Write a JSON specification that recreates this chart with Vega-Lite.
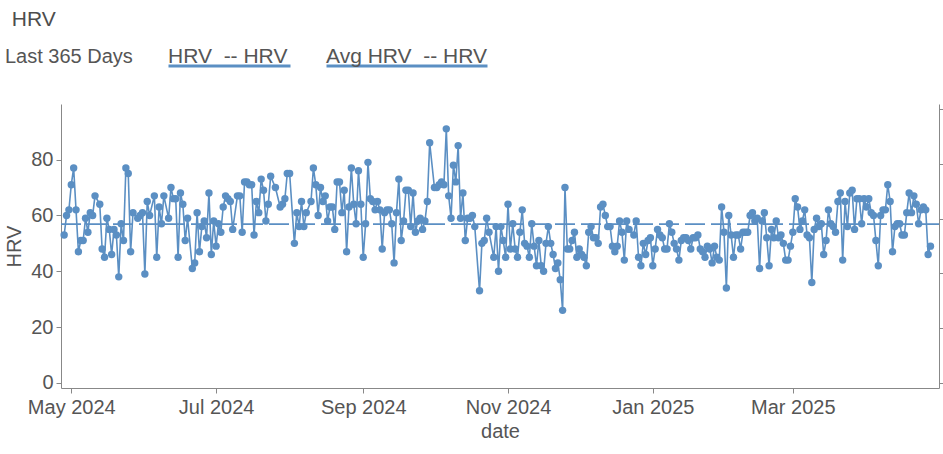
{
  "$schema": "https://vega.github.io/schema/vega-lite/v6.json",
  "autosize": "none",
  "padding": {"left": 61, "top": 104, "right": 4, "bottom": 66},
  "width": 878,
  "height": 284,
  "background": "white",
  "title": {"text": "HRV", "anchor": "start", "frame": "bounds", "dx": 7, "offset": 12, "fontSize": 21, "fontWeight": "normal", "color": "#4d4d4d", "font": "Liberation Sans"},
  "config": {
    "font": "Liberation Sans",
    "view": {"stroke": null},
    "axis": {"labelFont": "Liberation Sans", "labelFontSize": 20, "labelColor": "#555555", "titleFont": "Liberation Sans", "titleFontSize": 20, "titleFontWeight": "normal", "titleColor": "#555555", "domainColor": "#888888", "tickColor": "#888888", "grid": false, "tickSize": 5}
  },
  "datasets": {
    "hrv": [
{"date":"2024-04-28","hrv":53},{"date":"2024-04-29","hrv":60},{"date":"2024-04-30","hrv":62},{"date":"2024-05-01","hrv":71},{"date":"2024-05-02","hrv":77},{"date":"2024-05-03","hrv":62},{"date":"2024-05-04","hrv":47},{"date":"2024-05-05","hrv":51},{"date":"2024-05-06","hrv":51},{"date":"2024-05-07","hrv":59},{"date":"2024-05-08","hrv":54},{"date":"2024-05-09","hrv":61},{"date":"2024-05-10","hrv":60},{"date":"2024-05-11","hrv":67},{"date":"2024-05-13","hrv":64},{"date":"2024-05-14","hrv":48},{"date":"2024-05-15","hrv":45},{"date":"2024-05-16","hrv":59},{"date":"2024-05-17","hrv":55},{"date":"2024-05-18","hrv":46},{"date":"2024-05-19","hrv":55},{"date":"2024-05-20","hrv":53},{"date":"2024-05-21","hrv":38},{"date":"2024-05-22","hrv":57},{"date":"2024-05-23","hrv":51},{"date":"2024-05-24","hrv":77},{"date":"2024-05-25","hrv":75},{"date":"2024-05-26","hrv":47},{"date":"2024-05-27","hrv":61},{"date":"2024-05-29","hrv":59},{"date":"2024-05-30","hrv":60},{"date":"2024-05-31","hrv":61},
{"date":"2024-06-01","hrv":39},{"date":"2024-06-02","hrv":65},{"date":"2024-06-03","hrv":60},{"date":"2024-06-05","hrv":67},{"date":"2024-06-06","hrv":45},{"date":"2024-06-07","hrv":63},{"date":"2024-06-08","hrv":57},{"date":"2024-06-09","hrv":67},{"date":"2024-06-11","hrv":59},{"date":"2024-06-12","hrv":70},{"date":"2024-06-13","hrv":66},{"date":"2024-06-14","hrv":66},{"date":"2024-06-15","hrv":45},{"date":"2024-06-16","hrv":68},{"date":"2024-06-17","hrv":64},{"date":"2024-06-18","hrv":51},{"date":"2024-06-19","hrv":59},{"date":"2024-06-21","hrv":41},{"date":"2024-06-22","hrv":43},{"date":"2024-06-23","hrv":61},{"date":"2024-06-24","hrv":47},{"date":"2024-06-25","hrv":56},{"date":"2024-06-26","hrv":58},{"date":"2024-06-27","hrv":52},{"date":"2024-06-28","hrv":68},{"date":"2024-06-29","hrv":46},{"date":"2024-06-30","hrv":58},
{"date":"2024-07-01","hrv":49},{"date":"2024-07-02","hrv":57},{"date":"2024-07-03","hrv":54},{"date":"2024-07-04","hrv":63},{"date":"2024-07-05","hrv":67},{"date":"2024-07-06","hrv":66},{"date":"2024-07-07","hrv":65},{"date":"2024-07-08","hrv":55},{"date":"2024-07-10","hrv":67},{"date":"2024-07-11","hrv":67},{"date":"2024-07-12","hrv":54},{"date":"2024-07-13","hrv":72},{"date":"2024-07-14","hrv":72},{"date":"2024-07-15","hrv":71},{"date":"2024-07-16","hrv":71},{"date":"2024-07-17","hrv":53},{"date":"2024-07-18","hrv":65},{"date":"2024-07-19","hrv":61},{"date":"2024-07-20","hrv":73},{"date":"2024-07-21","hrv":69},{"date":"2024-07-22","hrv":58},{"date":"2024-07-23","hrv":64},{"date":"2024-07-24","hrv":74},{"date":"2024-07-26","hrv":70},{"date":"2024-07-28","hrv":63},{"date":"2024-07-29","hrv":64},{"date":"2024-07-30","hrv":66},{"date":"2024-07-31","hrv":75},
{"date":"2024-08-01","hrv":75},{"date":"2024-08-03","hrv":50},{"date":"2024-08-04","hrv":61},{"date":"2024-08-05","hrv":56},{"date":"2024-08-06","hrv":65},{"date":"2024-08-07","hrv":56},{"date":"2024-08-08","hrv":61},{"date":"2024-08-10","hrv":65},{"date":"2024-08-11","hrv":77},{"date":"2024-08-12","hrv":71},{"date":"2024-08-13","hrv":60},{"date":"2024-08-14","hrv":70},{"date":"2024-08-15","hrv":65},{"date":"2024-08-16","hrv":67},{"date":"2024-08-17","hrv":58},{"date":"2024-08-18","hrv":63},{"date":"2024-08-19","hrv":63},{"date":"2024-08-20","hrv":55},{"date":"2024-08-21","hrv":72},{"date":"2024-08-22","hrv":72},{"date":"2024-08-23","hrv":61},{"date":"2024-08-24","hrv":69},{"date":"2024-08-25","hrv":47},{"date":"2024-08-26","hrv":63},{"date":"2024-08-27","hrv":77},{"date":"2024-08-28","hrv":64},{"date":"2024-08-29","hrv":57},{"date":"2024-08-30","hrv":76},{"date":"2024-08-31","hrv":64},
{"date":"2024-09-01","hrv":45},{"date":"2024-09-02","hrv":57},{"date":"2024-09-03","hrv":79},{"date":"2024-09-04","hrv":66},{"date":"2024-09-05","hrv":65},{"date":"2024-09-06","hrv":62},{"date":"2024-09-07","hrv":65},{"date":"2024-09-08","hrv":62},{"date":"2024-09-09","hrv":48},{"date":"2024-09-10","hrv":61},{"date":"2024-09-11","hrv":62},{"date":"2024-09-12","hrv":62},{"date":"2024-09-13","hrv":57},{"date":"2024-09-14","hrv":43},{"date":"2024-09-15","hrv":61},{"date":"2024-09-16","hrv":73},{"date":"2024-09-17","hrv":51},{"date":"2024-09-18","hrv":58},{"date":"2024-09-19","hrv":69},{"date":"2024-09-20","hrv":69},{"date":"2024-09-21","hrv":56},{"date":"2024-09-22","hrv":68},{"date":"2024-09-23","hrv":54},{"date":"2024-09-24","hrv":58},{"date":"2024-09-25","hrv":59},{"date":"2024-09-26","hrv":55},{"date":"2024-09-27","hrv":58},{"date":"2024-09-28","hrv":65},{"date":"2024-09-29","hrv":86},
{"date":"2024-10-01","hrv":70},{"date":"2024-10-02","hrv":70},{"date":"2024-10-03","hrv":71},{"date":"2024-10-04","hrv":72},{"date":"2024-10-05","hrv":71},{"date":"2024-10-06","hrv":91},{"date":"2024-10-07","hrv":67},{"date":"2024-10-08","hrv":59},{"date":"2024-10-09","hrv":78},{"date":"2024-10-10","hrv":72},{"date":"2024-10-11","hrv":85},{"date":"2024-10-12","hrv":59},{"date":"2024-10-13","hrv":68},{"date":"2024-10-14","hrv":51},{"date":"2024-10-15","hrv":59},{"date":"2024-10-16","hrv":59},{"date":"2024-10-17","hrv":60},{"date":"2024-10-18","hrv":56},{"date":"2024-10-20","hrv":33},{"date":"2024-10-21","hrv":50},{"date":"2024-10-22","hrv":51},{"date":"2024-10-23","hrv":59},{"date":"2024-10-24","hrv":54},{"date":"2024-10-26","hrv":45},{"date":"2024-10-27","hrv":56},{"date":"2024-10-28","hrv":40},{"date":"2024-10-29","hrv":56},{"date":"2024-10-30","hrv":51},{"date":"2024-10-31","hrv":45},
{"date":"2024-11-01","hrv":64},{"date":"2024-11-02","hrv":48},{"date":"2024-11-03","hrv":57},{"date":"2024-11-04","hrv":48},{"date":"2024-11-05","hrv":45},{"date":"2024-11-06","hrv":54},{"date":"2024-11-07","hrv":62},{"date":"2024-11-08","hrv":50},{"date":"2024-11-09","hrv":49},{"date":"2024-11-10","hrv":45},{"date":"2024-11-11","hrv":57},{"date":"2024-11-12","hrv":49},{"date":"2024-11-13","hrv":42},{"date":"2024-11-14","hrv":51},{"date":"2024-11-15","hrv":42},{"date":"2024-11-16","hrv":40},{"date":"2024-11-17","hrv":50},{"date":"2024-11-18","hrv":56},{"date":"2024-11-19","hrv":50},{"date":"2024-11-20","hrv":46},{"date":"2024-11-21","hrv":41},{"date":"2024-11-22","hrv":43},{"date":"2024-11-23","hrv":37},{"date":"2024-11-24","hrv":26},{"date":"2024-11-25","hrv":70},{"date":"2024-11-26","hrv":48},{"date":"2024-11-27","hrv":48},{"date":"2024-11-28","hrv":51},{"date":"2024-11-29","hrv":54},{"date":"2024-11-30","hrv":45},
{"date":"2024-12-01","hrv":48},{"date":"2024-12-02","hrv":46},{"date":"2024-12-03","hrv":45},{"date":"2024-12-04","hrv":42},{"date":"2024-12-05","hrv":54},{"date":"2024-12-06","hrv":56},{"date":"2024-12-07","hrv":52},{"date":"2024-12-08","hrv":52},{"date":"2024-12-09","hrv":50},{"date":"2024-12-10","hrv":63},{"date":"2024-12-11","hrv":64},{"date":"2024-12-12","hrv":60},{"date":"2024-12-13","hrv":56},{"date":"2024-12-14","hrv":56},{"date":"2024-12-15","hrv":49},{"date":"2024-12-16","hrv":47},{"date":"2024-12-17","hrv":49},{"date":"2024-12-18","hrv":58},{"date":"2024-12-19","hrv":54},{"date":"2024-12-20","hrv":44},{"date":"2024-12-21","hrv":58},{"date":"2024-12-22","hrv":55},{"date":"2024-12-24","hrv":53},{"date":"2024-12-25","hrv":58},{"date":"2024-12-26","hrv":45},{"date":"2024-12-27","hrv":42},{"date":"2024-12-28","hrv":50},{"date":"2024-12-29","hrv":46},{"date":"2024-12-30","hrv":51},{"date":"2024-12-31","hrv":52},
{"date":"2025-01-01","hrv":42},{"date":"2025-01-02","hrv":48},{"date":"2025-01-03","hrv":55},{"date":"2025-01-04","hrv":53},{"date":"2025-01-05","hrv":52},{"date":"2025-01-06","hrv":48},{"date":"2025-01-07","hrv":48},{"date":"2025-01-08","hrv":57},{"date":"2025-01-09","hrv":54},{"date":"2025-01-10","hrv":50},{"date":"2025-01-11","hrv":48},{"date":"2025-01-12","hrv":44},{"date":"2025-01-13","hrv":51},{"date":"2025-01-14","hrv":52},{"date":"2025-01-15","hrv":52},{"date":"2025-01-16","hrv":51},{"date":"2025-01-17","hrv":48},{"date":"2025-01-18","hrv":52},{"date":"2025-01-19","hrv":52},{"date":"2025-01-20","hrv":53},{"date":"2025-01-21","hrv":48},{"date":"2025-01-22","hrv":47},{"date":"2025-01-23","hrv":45},{"date":"2025-01-24","hrv":49},{"date":"2025-01-25","hrv":48},{"date":"2025-01-26","hrv":43},{"date":"2025-01-27","hrv":49},{"date":"2025-01-28","hrv":45},{"date":"2025-01-29","hrv":44},{"date":"2025-01-30","hrv":63},{"date":"2025-01-31","hrv":54},
{"date":"2025-02-01","hrv":34},{"date":"2025-02-02","hrv":60},{"date":"2025-02-03","hrv":53},{"date":"2025-02-04","hrv":45},{"date":"2025-02-05","hrv":53},{"date":"2025-02-06","hrv":53},{"date":"2025-02-07","hrv":48},{"date":"2025-02-08","hrv":54},{"date":"2025-02-09","hrv":54},{"date":"2025-02-10","hrv":54},{"date":"2025-02-11","hrv":60},{"date":"2025-02-12","hrv":61},{"date":"2025-02-13","hrv":58},{"date":"2025-02-14","hrv":59},{"date":"2025-02-15","hrv":41},{"date":"2025-02-16","hrv":58},{"date":"2025-02-17","hrv":61},{"date":"2025-02-18","hrv":52},{"date":"2025-02-19","hrv":42},{"date":"2025-02-20","hrv":55},{"date":"2025-02-21","hrv":52},{"date":"2025-02-22","hrv":58},{"date":"2025-02-23","hrv":52},{"date":"2025-02-24","hrv":53},{"date":"2025-02-25","hrv":50},{"date":"2025-02-26","hrv":44},{"date":"2025-02-27","hrv":44},{"date":"2025-02-28","hrv":49},
{"date":"2025-03-01","hrv":54},{"date":"2025-03-02","hrv":66},{"date":"2025-03-03","hrv":63},{"date":"2025-03-04","hrv":55},{"date":"2025-03-05","hrv":58},{"date":"2025-03-06","hrv":62},{"date":"2025-03-07","hrv":53},{"date":"2025-03-08","hrv":52},{"date":"2025-03-09","hrv":36},{"date":"2025-03-10","hrv":55},{"date":"2025-03-11","hrv":59},{"date":"2025-03-12","hrv":56},{"date":"2025-03-13","hrv":57},{"date":"2025-03-14","hrv":46},{"date":"2025-03-15","hrv":51},{"date":"2025-03-16","hrv":62},{"date":"2025-03-17","hrv":57},{"date":"2025-03-18","hrv":56},{"date":"2025-03-19","hrv":54},{"date":"2025-03-20","hrv":65},{"date":"2025-03-21","hrv":68},{"date":"2025-03-22","hrv":44},{"date":"2025-03-23","hrv":65},{"date":"2025-03-24","hrv":56},{"date":"2025-03-25","hrv":68},{"date":"2025-03-26","hrv":69},{"date":"2025-03-27","hrv":55},{"date":"2025-03-28","hrv":66},{"date":"2025-03-29","hrv":66},{"date":"2025-03-30","hrv":57},{"date":"2025-03-31","hrv":66},
{"date":"2025-04-01","hrv":63},{"date":"2025-04-02","hrv":66},{"date":"2025-04-03","hrv":61},{"date":"2025-04-04","hrv":60},{"date":"2025-04-05","hrv":51},{"date":"2025-04-06","hrv":42},{"date":"2025-04-07","hrv":60},{"date":"2025-04-08","hrv":62},{"date":"2025-04-09","hrv":62},{"date":"2025-04-10","hrv":71},{"date":"2025-04-11","hrv":65},{"date":"2025-04-12","hrv":47},{"date":"2025-04-13","hrv":56},{"date":"2025-04-14","hrv":57},{"date":"2025-04-15","hrv":57},{"date":"2025-04-16","hrv":53},{"date":"2025-04-17","hrv":53},{"date":"2025-04-18","hrv":61},{"date":"2025-04-19","hrv":68},{"date":"2025-04-20","hrv":61},{"date":"2025-04-21","hrv":67},{"date":"2025-04-22","hrv":64},{"date":"2025-04-23","hrv":57},{"date":"2025-04-24","hrv":62},{"date":"2025-04-25","hrv":63},{"date":"2025-04-26","hrv":62},{"date":"2025-04-27","hrv":46},{"date":"2025-04-28","hrv":49}
    ],
    "avg": [{"avg": 58}]
  },
  "layer": [
    {
      "data": {"name": "hrv", "format": {"parse": {"date": "date:'%Y-%m-%d'"}}},
      "mark": {"type": "line", "strokeWidth": 1.6, "point": {"filled": true, "size": 55, "opacity": 1}},
      "encoding": {
        "x": {
          "field": "date", "type": "temporal", "title": "date",
          "scale": {"domain": [{"year": 2024, "month": 4, "date": 26, "hours": 16}, {"year": 2025, "month": 5, "date": 1, "hours": 14}]},
          "axis": {
            "format": "%b %Y",
            "values": [
              {"year": 2024, "month": 5, "date": 1},
              {"year": 2024, "month": 7, "date": 1},
              {"year": 2024, "month": 9, "date": 1},
              {"year": 2024, "month": 11, "date": 1},
              {"year": 2025, "month": 1, "date": 1},
              {"year": 2025, "month": 3, "date": 1}
            ],
            "labelPadding": 4, "titlePadding": 4
          }
        },
        "y": {
          "field": "hrv", "type": "quantitative", "title": "HRV",
          "scale": {"domain": [-1.8, 99.9], "nice": false, "zero": false},
          "axis": {"values": [0, 20, 40, 60, 80], "labelPadding": 3, "titlePadding": 6}
        },
        "color": {
          "datum": "HRV\u00a0 -- HRV",
          "scale": {"domain": ["HRV\u00a0 -- HRV", "Avg HRV\u00a0 -- HRV"], "range": ["#5b8fc3", "#5b8fc3"]},
          "legend": {
            "orient": "none", "legendX": -56, "legendY": -62,
            "direction": "horizontal",
            "title": "Last 365 Days", "titleOrient": "left", "titleFontSize": 20, "titleFontWeight": "normal", "titleColor": "#555555", "titleFont": "Liberation Sans", "titlePadding": 25,
            "labelFontSize": 21, "labelColor": "#555555", "labelFont": "Liberation Sans", "labelLimit": 300, "labelOffset": -11,
            "columnPadding": 19,
            "symbolSize": 4, "symbolStrokeWidth": 3,
            "encode": {
              "labels": {"update": {"dy": {"value": 4}}},
              "symbols": {"update": {
                "shape": {"signal": "datum.value === 'HRV\u00a0 -- HRV' ? 'M0,13.5L122,13.5' : 'M0,13.5L161,13.5'"},
                "fill": {"value": "transparent"},
                "stroke": {"value": "#5b8fc3"},
                "strokeWidth": {"value": 3},
                "strokeDash": {"value": [1, 0]}
              }}
            }
          }
        }
      }
    },
    {
      "data": {"name": "avg"},
      "mark": {"type": "rule", "strokeDash": [20, 6], "strokeWidth": 1.8},
      "encoding": {
        "y": {
          "field": "avg", "type": "quantitative",
          "scale": {"domain": [-1.8, 101.8], "nice": false, "zero": false},
          "axis": {"orient": "right", "values": [0, 20, 40, 60, 80, 100], "labels": false, "title": null}
        },
        "color": {"datum": "Avg HRV\u00a0 -- HRV"}
      }
    }
  ],
  "resolve": {"scale": {"y": "independent"}}
}
